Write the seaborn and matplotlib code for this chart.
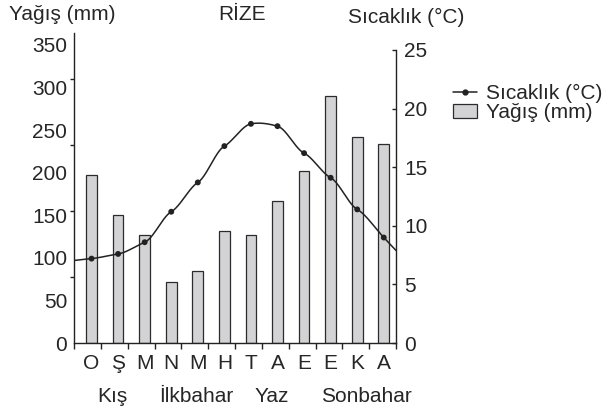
import numpy as np
import pandas as pd
import matplotlib
matplotlib.use('Agg')
import matplotlib.pyplot as plt
import matplotlib.transforms as mtransforms
from matplotlib.lines import Line2D
from matplotlib.patches import Patch
import seaborn as sns

# veriler
aylar = ['O', 'Ş', 'M', 'N', 'M', 'H', 'T', 'A', 'E', 'E', 'K', 'A']
yagis = [197, 150, 127, 72, 85, 132, 127, 167, 202, 290, 242, 234]          # mm
sicaklik = [7.2, 7.6, 8.6, 11.2, 13.7, 16.8, 18.7, 18.5, 16.2, 14.1, 11.4, 9.0]  # °C
mevsimler = ['Kış', 'İlkbahar', 'Yaz', 'Sonbahar']
yagis_etiket = [0, 50, 100, 150, 200, 250, 300, 350]
sicaklik_etiket = [0, 5, 10, 15, 20, 25]

sns.set_style('ticks')
plt.rcParams['font.family'] = ['Liberation Sans', 'DejaVu Sans']
FS = 15


def yumusak_egri(x, y, xs, gerilim=0.5):
    """Noktalardan geçen yumuşak eğri (Catmull-Rom / kardinal spline)"""
    x = np.asarray(x, float)
    y = np.asarray(y, float)
    n = len(x)
    # uçlarda eğim: komşu farkı
    m = np.zeros(n)
    m[1:-1] = (1 - gerilim) * (y[2:] - y[:-2]) / (x[2:] - x[:-2])
    m[0] = (y[1] - y[0]) / (x[1] - x[0]) * 0.6
    m[-1] = (y[-1] - y[-2]) / (x[-1] - x[-2]) * 1.0
    out = np.empty_like(xs)
    for k, t in enumerate(xs):
        if t <= x[0]:
            out[k] = y[0] + m[0] * (t - x[0])
            continue
        if t >= x[-1]:
            out[k] = y[-1] + m[-1] * (t - x[-1])
            continue
        i = min(np.searchsorted(x, t) - 1, n - 2)
        h = x[i + 1] - x[i]
        s = (t - x[i]) / h
        h00 = 2 * s**3 - 3 * s**2 + 1
        h10 = s**3 - 2 * s**2 + s
        h01 = -2 * s**3 + 3 * s**2
        h11 = s**3 - s**2
        out[k] = h00 * y[i] + h10 * h * m[i] + h01 * y[i + 1] + h11 * h * m[i + 1]
    return out


df = pd.DataFrame({'ay': np.arange(len(aylar)), 'yagis': yagis, 'sicaklik': sicaklik})

fig = plt.figure(figsize=(6.04, 4.11), dpi=100)
ax = fig.add_axes([74 / 604, 1 - 343 / 411, 322 / 604, 310 / 411])

sns.barplot(data=df, x='ay', y='yagis', ax=ax, width=0.4, color='#d3d3d5',
            edgecolor='#2b2b2b', linewidth=0.9, saturation=1)

xmin, xmax = -0.66, 11.46
ax.set_xlim(xmin, xmax)
ax.set_ylim(0, 364)
ax.set_xlabel('')
ax.set_ylabel('')

# alt eksen
ax.set_xticks(range(len(aylar)))
ax.set_xticklabels(aylar, fontsize=FS)
ax.set_xticks(np.linspace(xmin, xmax, 13), minor=True)
ax.tick_params(axis='x', which='major', length=0, pad=8)
ax.tick_params(axis='x', which='minor', length=4, width=1, direction='out', color='#222')

# sol eksen
ax.set_yticks(yagis_etiket)
ax.set_yticklabels([str(v) for v in yagis_etiket], fontsize=FS)
ax.set_yticks([77.5, 155, 232.5, 310], minor=True)
ax.tick_params(axis='y', which='major', length=0, pad=5)
ax.tick_params(axis='y', which='minor', length=3, width=1, direction='out', color='#222')

for s in ['top', 'right']:
    ax.spines[s].set_visible(False)
for s in ['left', 'bottom']:
    ax.spines[s].set_color('#222')
    ax.spines[s].set_linewidth(1.0)

# sağ eksen: sıcaklık
ax2 = ax.twinx()
ax2.set_ylim(0, 25 * 310 / 293)
xs = np.linspace(xmin, xmax, 400)
ax2.plot(xs, yumusak_egri(df['ay'], df['sicaklik'], xs), color='#222', lw=1.1)
sns.scatterplot(data=df, x='ay', y='sicaklik', ax=ax2, color='#222', s=18,
                edgecolor='none', zorder=5)
ax2.set_xlim(xmin, xmax)
ax2.set_xlabel('')
ax2.set_ylabel('')
ax2.set_yticks(sicaklik_etiket)
ax2.set_yticklabels([str(v) for v in sicaklik_etiket], fontsize=FS)
ax2.tick_params(axis='y', length=3, width=1, direction='in', pad=6, color='#222')
for s in ['top', 'left', 'bottom']:
    ax2.spines[s].set_visible(False)
ax2.spines['right'].set_bounds(0, 25)
ax2.spines['right'].set_color('#222')
ax2.spines['right'].set_linewidth(1.0)

# mevsim etiketleri
trans = mtransforms.blended_transform_factory(ax.transData, ax.transAxes)
for mevsim, xpos in zip(mevsimler, [0.77, 3.96, 6.8, 10.33]):
    ax.text(xpos, -0.172, mevsim, transform=trans, ha='center', va='center', fontsize=FS)

# başlıklar
fig.text(62 / 604, 1 - 15 / 411, 'Yağış (mm)', ha='center', va='center', fontsize=FS)
fig.text(242 / 604, 1 - 15 / 411, 'RİZE', ha='center', va='center', fontsize=FS)
fig.text(406 / 604, 1 - 17 / 411, 'Sıcaklık (°C)', ha='center', va='center', fontsize=FS)

# lejant
handles = [
    Line2D([0], [0], color='#222', lw=1.1, marker='o', markersize=3.5),
    Patch(facecolor='#d3d3d5', edgecolor='#2b2b2b', linewidth=0.9),
]
fig.legend(handles, ['Sıcaklık (°C)', 'Yağış (mm)'], loc='upper left',
           bbox_to_anchor=(453 / 604, 1 - 84 / 411), frameon=False, fontsize=FS,
           borderpad=0, borderaxespad=0, handlelength=1.15, handleheight=0.7,
           handletextpad=0.45, labelspacing=0.02)

fig.savefig('out.png', dpi=100)
